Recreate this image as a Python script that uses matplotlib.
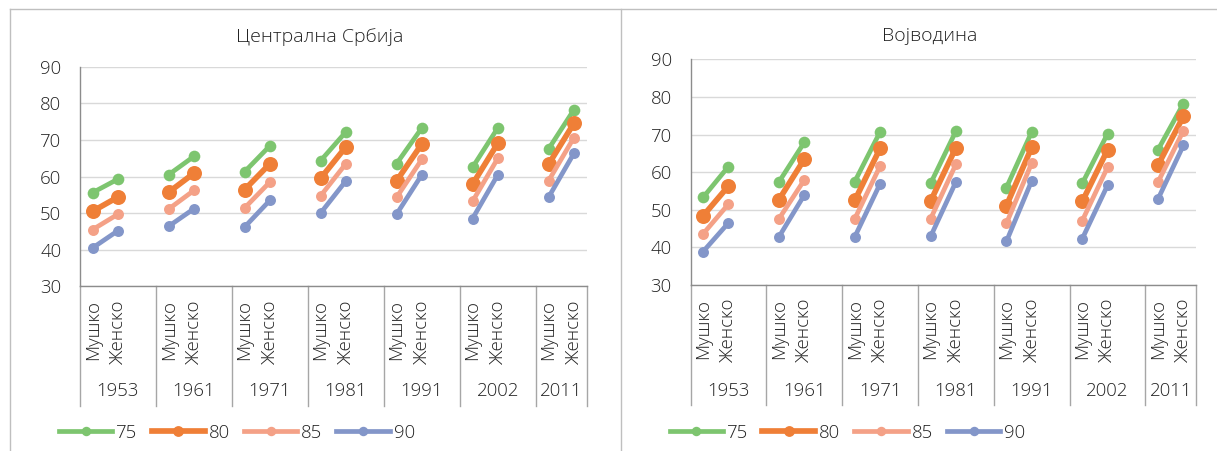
import matplotlib
matplotlib.use("Agg")
import matplotlib.pyplot as plt
import numpy as np
from matplotlib.lines import Line2D
from matplotlib.transforms import blended_transform_factory

plt.rcParams["font.family"] = ["Open Sans", "DejaVu Sans"]
plt.rcParams["font.weight"] = "light"

# ---- data -------------------------------------------------------------
years = ["1953", "1961", "1971", "1981", "1991", "2002", "2011"]
sexes = ["Мушко", "Женско"]
ages = ["75", "80", "85", "90"]

# values per year as (Мушко, Женско) pairs
central_75 = [55.6, 59.3, 60.5, 65.5, 61.3, 68.4, 64.3, 72.2, 63.5, 73.3, 62.5, 73.3, 67.5, 78.2]
central_80 = [50.5, 54.4, 55.7, 60.9, 56.4, 63.5, 59.5, 68.1, 58.8, 68.9, 57.9, 69.1, 63.3, 74.5]
central_85 = [45.5, 49.7, 51.1, 56.2, 51.4, 58.5, 54.7, 63.5, 54.3, 64.7, 53.2, 65.0, 58.8, 70.6]
central_90 = [40.5, 45.2, 46.4, 51.2, 46.2, 53.5, 50.0, 58.8, 49.7, 60.5, 48.5, 60.5, 54.3, 66.3]

vojv_75 = [53.3, 61.5, 57.4, 67.9, 57.5, 70.7, 57.0, 70.9, 55.9, 70.7, 57.0, 70.2, 66.0, 78.2]
vojv_80 = [48.4, 56.3, 52.7, 63.4, 52.5, 66.3, 52.3, 66.5, 51.1, 66.6, 52.2, 65.9, 61.9, 74.8]
vojv_85 = [43.6, 51.5, 47.6, 57.9, 47.6, 61.6, 47.6, 62.1, 46.4, 62.4, 47.1, 61.3, 57.4, 71.0]
vojv_90 = [38.9, 46.5, 42.8, 53.9, 42.8, 56.9, 42.9, 57.4, 41.6, 57.7, 42.3, 56.5, 52.9, 67.1]

titles = ["Централна Србија", "Војводина"]
panels = [
    [central_75, central_80, central_85, central_90],
    [vojv_75, vojv_80, vojv_85, vojv_90],
]

# ---- styling ----------------------------------------------------------
colors = ["#7dc56f", "#ef7f37", "#f4a187", "#8396c9"]
line_w = [3.4, 4.1, 3.4, 3.4]
mark_s = [8.4, 10.8, 7.9, 7.9]
leg_mark_s = [6.8, 7.8, 6.8, 6.8]
text_c = "#222222"
FS = 13.4

W, H = 1217, 451
fig = plt.figure(figsize=(W / 100, H / 100), dpi=100)
fig.patch.set_facecolor("white")

# category slots: Мушко, Женско, then an empty slot between years
n_slots = 3 * len(years) - 1
slot_of = []
for g in range(len(years)):
    slot_of += [3 * g, 3 * g + 1]
slot_labels = [""] * n_slots
for g in range(len(years)):
    slot_labels[3 * g] = sexes[0]
    slot_labels[3 * g + 1] = sexes[1]


def px_axes(x0, x1, ytop, ybot):
    return fig.add_axes([x0 / W, 1 - ybot / H, (x1 - x0) / W, (ybot - ytop) / H])


layout = [
    dict(box=(80.0, 586.5, 66.7, 286.3), title=(320, 37), legend=(59.0, 432.7), year_y=391.5, sep_bot=405.5),
    dict(box=(690.5, 1196.0, 59.3, 285.0), title=(930, 36), legend=(669.5, 433.0), year_y=390.7, sep_bot=404.5),
]

for title, series, lay in zip(titles, panels, layout):
    x0, x1, ytop, ybot = lay["box"]
    ax = px_axes(x0, x1, ytop, ybot)
    ax.set_facecolor("white")
    ax.set_xlim(-0.5, n_slots - 0.5)
    ax.set_ylim(30, 90)
    ax.set_yticks(range(30, 91, 10))
    ax.yaxis.grid(True, color="#d9d9d9", lw=1.0)
    ax.set_axisbelow(True)
    for s in ("top", "right"):
        ax.spines[s].set_visible(False)
    for s in ("left", "bottom"):
        ax.spines[s].set_color("#8c8c8c")
        ax.spines[s].set_linewidth(1.0)
    ax.tick_params(axis="y", length=0, pad=13.5, labelsize=FS, labelcolor=text_c)
    ax.set_xticks(range(n_slots))
    ax.set_xticklabels(slot_labels, rotation=90, va="top", ha="center")
    ax.tick_params(axis="x", length=0, pad=10, labelsize=FS, labelcolor=text_c)

    for vals, c, lw, ms in zip(series, colors, line_w, mark_s):
        y = np.full(n_slots, np.nan)
        y[slot_of] = vals
        ax.plot(np.arange(n_slots), y, color=c, lw=lw, marker="o", ms=ms,
                markeredgewidth=0, solid_capstyle="butt")

    # year row and group separators below the axis
    tr = blended_transform_factory(ax.transData, fig.transFigure)
    for g, yr in enumerate(years):
        n_in = 2 if g == len(years) - 1 else 3
        xc = 3 * g + (n_in - 1) / 2
        ax.text(xc, 1 - lay["year_y"] / H, yr, transform=tr, ha="center", va="center",
                fontsize=FS, color=text_c)
    seps = [3 * g - 0.5 for g in range(len(years))] + [n_slots - 0.5]
    for sx in seps:
        ax.add_line(Line2D([sx, sx], [1 - ybot / H, 1 - lay["sep_bot"] / H], transform=tr,
                           color="#a6a6a6", lw=1.0, clip_on=False))

    fig.text(lay["title"][0] / W, 1 - lay["title"][1] / H, title, ha="center", va="center",
             fontsize=14, color=text_c)

    handles = [Line2D([], [], color=c, lw=lw, marker="o", ms=ms, markeredgewidth=0)
               for c, lw, ms in zip(colors, line_w, leg_mark_s)]
    fig.legend(handles, ages, loc="center left",
               bbox_to_anchor=(lay["legend"][0] / W, 1 - lay["legend"][1] / H),
               ncol=4, frameon=False, fontsize=FS, labelcolor=text_c,
               handlelength=2.87, handletextpad=0.2, columnspacing=0.76,
               borderpad=0, borderaxespad=0)

# chart frames
frame_c = "#bfbfbf"
for xs, ys in [([9.8, W], [9.3, 9.3]), ([9.8, 9.8], [9.3, H]), ([621, 621], [9.3, H])]:
    fig.add_artist(Line2D([x / W for x in xs], [1 - y / H for y in ys],
                          transform=fig.transFigure, color=frame_c, lw=1.0))

fig.savefig("out.png", dpi=100, facecolor="white")
